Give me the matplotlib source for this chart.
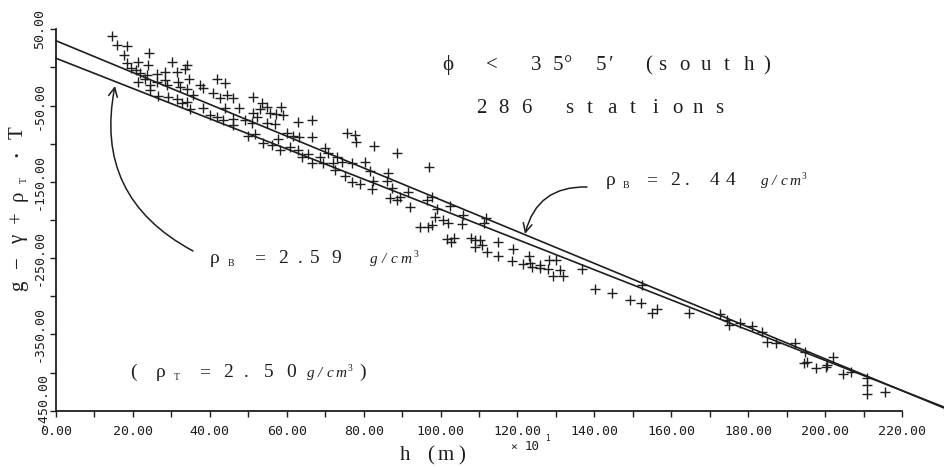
import matplotlib
matplotlib.use('Agg')
import matplotlib.pyplot as plt

W, H = 944, 467

# ---------------- data ----------------
h_vals = [
    14.6, 15.8, 18.4, 17.7, 24.2, 18.5, 21.4, 19.5, 24.0, 30.2, 34.1, 20.7, 21.8, 23.6, 26.2, 28.3,
    31.4, 33.5, 41.8, 43.9, 21.4, 23.1, 24.4, 26.2, 28.3, 28.8, 31.8, 34.7, 32.2, 34.0, 37.5, 38.3,
    35.7, 40.9, 42.6, 44.4, 26.6, 29.2, 31.4, 32.7, 34.0, 34.8, 38.3, 40.0, 41.8, 43.5, 43.9, 24.4,
    46.1, 51.3, 47.7, 53.5, 54.8, 58.4, 51.3, 53.0, 55.7, 57.2, 59.1, 63.0, 66.5, 46.1, 46.1, 49.2,
    50.9, 52.2, 54.8, 56.9, 60.0, 61.6, 63.3, 66.5, 50.0, 51.8, 53.8, 56.1, 57.8, 58.3, 60.9, 63.0,
    63.9, 65.6, 66.5, 68.7, 70.0, 70.8, 72.1, 73.0, 72.6, 69.5,
    75.8, 77.8, 78.0, 82.7, 88.6, 97.1, 80.4, 74.3, 76.9, 81.7, 86.4, 75.1, 76.9, 79.1, 82.4, 82.1,
    86.0, 87.3, 91.6, 86.9, 88.6, 89.5, 92.1, 97.7, 96.6, 99.0, 98.6, 100.7, 102.5, 102.0, 94.7, 96.8,
    97.7, 101.8, 103.5, 102.8,
    105.9, 105.5, 111.8, 111.3, 107.9, 109.0, 110.3, 109.0, 110.7, 112.0, 115.0, 115.0, 118.9, 118.5,
    121.5, 123.1, 123.3, 123.7, 125.9, 125.9, 128.0, 128.3, 130.0, 129.3, 131.1, 131.9, 136.7,
    140.2, 144.5, 149.3, 152.1, 154.9, 156.2, 152.3, 164.7, 172.7, 174.4, 175.1, 177.9,
    180.9, 183.5, 185.0, 187.3, 192.2, 194.8, 194.5, 195.4, 197.6, 200.3, 200.6, 202.0, 204.6, 206.7,
    211.0, 211.0, 211.0, 215.6,
]
g_vals = [
    41.6, 29.4, 28.1, 16.3, 18.5, 6.2, 7.5, -0.3, 3.2, 6.7, 3.2, -3.3, -6.9, -9.9, -8.6, -5.6,
    -6.4, -2.4, -15.5, -20.8, -18.7, -15.5, -23.0, -18.7, -16.4, -23.0, -18.7, -15.5, -25.2, -28.6, -23.0, -27.3,
    -36.1, -33.9, -40.4, -36.1, -37.4, -39.1, -41.7, -46.2, -44.9, -54.9, -53.5, -62.3, -64.5, -68.9, -53.5, -29.5,
    -40.4, -39.1, -52.7, -47.0, -51.4, -51.4, -60.1, -54.9, -60.1, -61.0, -62.3, -71.1, -68.9, -68.0, -75.4, -68.9,
    -73.2, -65.3, -73.2, -74.1, -85.5, -89.8, -90.8, -91.6, -89.8, -87.2, -99.4, -101.6, -94.2, -108.2, -104.7, -108.2,
    -117.8, -113.4, -124.8, -117.0, -106.0, -112.5, -125.6, -117.0, -134.4, -125.6,
    -85.5, -88.5, -98.1, -102.9, -112.5, -130.9, -123.5, -123.5, -125.6, -135.3, -138.7, -142.3, -149.7, -152.8, -148.4, -159.7,
    -148.4, -158.4, -162.8, -171.5, -173.7, -169.4, -183.3, -170.2, -173.7, -185.9, -196.4, -199.9, -181.6, -204.3, -208.7, -208.7,
    -206.5, -224.5, -223.5, -229.0,
    -193.4, -205.2, -197.7, -204.3, -223.9, -226.2, -226.2, -234.9, -232.7, -241.5, -228.4, -247.1, -238.3, -253.3,
    -257.6, -247.1, -256.7, -261.1, -258.9, -263.2, -264.5, -252.4, -252.4, -273.3, -265.5, -273.3, -264.5,
    -290.4, -295.2, -304.8, -308.3, -321.4, -317.0, -285.1, -322.2, -323.1, -331.0, -337.5, -335.3,
    -338.9, -346.3, -359.4, -360.7, -360.7, -372.5, -386.9, -385.6, -394.3, -392.2, -390.0, -379.9, -401.8, -398.8,
    -407.4, -416.2, -428.4, -425.0,
]

# regression lines (end points)
line_h = [0.0, 231.0]
line_244 = [35.0, -446.6]   # rho_B = 2.44
line_259 = [12.0, -445.4]   # rho_B = 2.59

x_ticks = list(range(0, 221, 10))
x_labeled = list(range(0, 221, 20))
y_ticks = list(range(-450, 51, 50))
y_labeled = [50, -50, -150, -250, -350]
y_bottom_label = -450

INK = '#1e1e1e'
SERIF = ['Liberation Serif', 'DejaVu Serif']
MONO = ['DejaVu Sans Mono']

fig = plt.figure(figsize=(W / 100, H / 100), dpi=100)
fig.patch.set_facecolor('white')
ax = fig.add_axes([56 / W, 1 - 410.7 / H, (902 - 56) / W, (410.7 - 29.3) / H])

ax.plot(h_vals, g_vals, linestyle='none', marker='+', ms=6.5, mew=1.0, color=INK)
ax.plot(line_h, line_244, color=INK, lw=1.2, clip_on=False)
ax.plot(line_h, line_259, color=INK, lw=1.2, clip_on=False)

ax.set_xlim(0, 220)
ax.set_ylim(-450, 50)
for s in ('top', 'right'):
    ax.spines[s].set_visible(False)
for s in ('left', 'bottom'):
    ax.spines[s].set_color(INK)
    ax.spines[s].set_linewidth(1.3)

ax.set_xticks(x_ticks)
ax.set_xticklabels(["%.2f" % v if v in x_labeled else "" for v in x_ticks],
                   family=MONO, fontsize=9.5, color=INK)
ax.set_yticks(y_ticks)
ax.set_yticklabels(["%.2f" % v if v in y_labeled else "" for v in y_ticks],
                   family=MONO, fontsize=9.5, color=INK, rotation=90, va='center')
ax.tick_params(direction='out', length=4.5, width=1.0, color=INK)
ax.tick_params(axis='x', pad=6)
ax.tick_params(axis='y', pad=3)


def put(x, y, s, size, family=SERIF, **kw):
    kw.setdefault('ha', 'center')
    kw.setdefault('va', 'baseline')
    fig.text(x / W, 1 - y / H, s, fontsize=size, color=INK, family=family, **kw)


def spaced(xs, y, chars, size, **kw):
    for x, c in zip(xs, chars):
        put(x, y, c, size, **kw)


# lowest y tick label, lifted slightly so it clears the "0.00" x label
put(42, 400, "%.2f" % y_bottom_label, 9.5, family=MONO, rotation=90, va='center')

# title lines
spaced([448, 492, 536, 558, 568, 601, 611, 649, 662, 684, 706, 727, 749, 767], 70,
       ['ϕ', '<', '3', '5', '°', '5', '′', '(', 's', 'o', 'u', 't', 'h', ')'], 15)
spaced([481, 503, 526, 569, 590, 612, 633, 655, 677, 698, 719], 113,
       list('286stations'), 15)

# rho_B = 2.44
spaced([611, 652, 675, 687, 714, 731], 185, ['ρ', '=', '2', '.', '4', '4'], 14)
put(626, 188, 'B', 7)
spaced([765, 774, 784, 795], 185, ['g', '/', 'c', 'm'], 11, style='italic')
put(804, 179, '3', 7)

# rho_B = 2.59
spaced([215, 260, 283, 300, 315, 336], 263, ['ρ', '=', '2', '.', '5', '9'], 14)
put(231, 266, 'B', 7)
spaced([374, 384, 394, 406], 263, ['g', '/', 'c', 'm'], 11, style='italic')
put(416, 257, '3', 7)

# ( rho_T = 2.50 g/cm3 )
spaced([133, 161, 205, 228, 246, 269, 291], 377, ['(', 'ρ', '=', '2', '.', '5', '0'], 14)
put(177, 380, 'T', 7)
spaced([311, 320, 330, 341], 377, ['g', '/', 'c', 'm'], 11, style='italic')
put(350, 371, '3', 7)
put(363, 377, ')', 14)

# y label (rotated characters)
for y, c, sz, bx in [(286, 'g', 15, 23), (262, '−', 15, 23), (239, 'γ', 15, 23), (217, '+', 15, 23),
                     (196, 'ρ', 15, 23), (180, 'T', 7, 27), (155, '•', 9, 21), (133, 'T', 15, 23)]:
    fig.text(bx / W, 1 - y / H, c, fontsize=sz, color=INK, family=SERIF, rotation=90,
             rotation_mode='anchor', ha='center', va='baseline')

# x label
spaced([405, 431, 446, 462], 460, ['h', '(', 'm', ')'], 15)
put(514, 450, '×', 8, family=MONO)
put(532, 450, '10', 9, family=MONO)
put(547, 441, '1', 5.5, family=MONO)

# arrows
ap = dict(arrowstyle='->', lw=1.1, color=INK, shrinkA=0, shrinkB=0, mutation_scale=16)
ax.annotate('', xy=(525, H - 234), xycoords='figure pixels',
            xytext=(587, H - 187), textcoords='figure pixels',
            arrowprops=dict(ap, connectionstyle='arc3,rad=0.4'))
ax.annotate('', xy=(115, H - 86), xycoords='figure pixels',
            xytext=(193, H - 251), textcoords='figure pixels',
            arrowprops=dict(ap, connectionstyle='arc3,rad=-0.37'))

fig.savefig('out.png', dpi=100, facecolor='white')
